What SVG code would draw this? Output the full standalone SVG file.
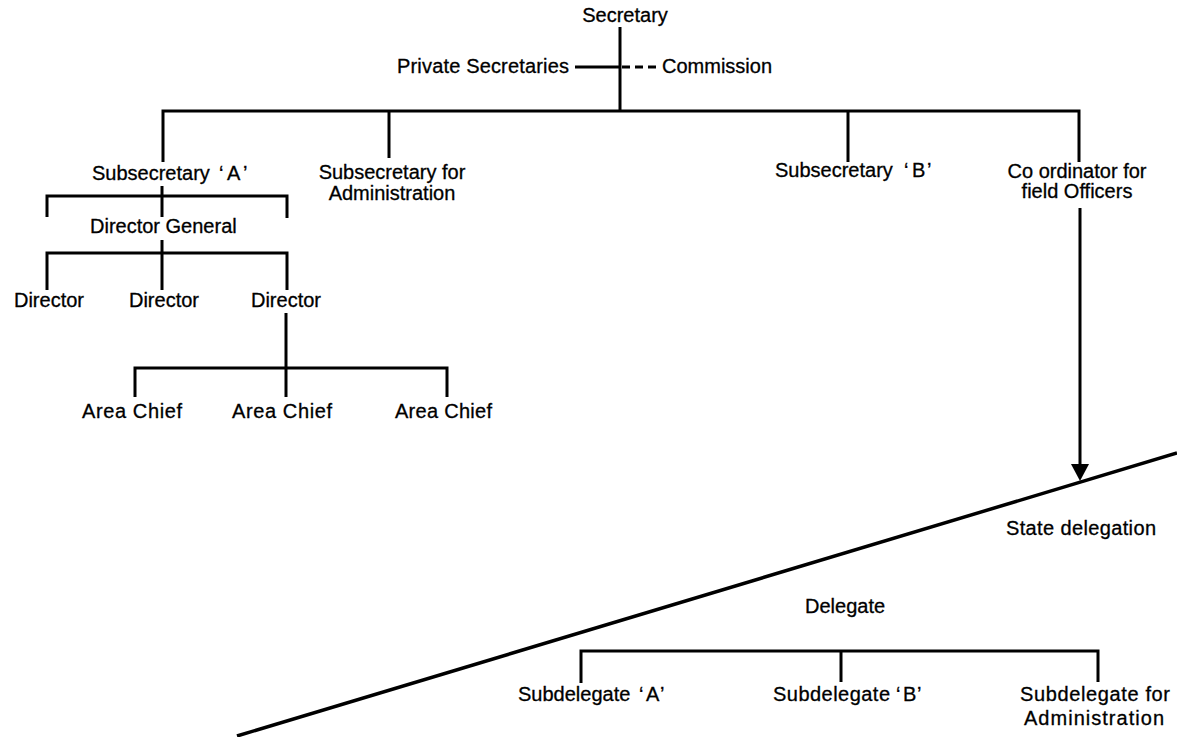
<svg xmlns="http://www.w3.org/2000/svg" width="1177" height="737" viewBox="0 0 1177 737">
  <style>
    .lbl { font-family: "Liberation Sans", Arial, sans-serif; font-size: 20px; fill: #000; stroke: #000; stroke-width: 0.3; }
    .mid { text-anchor: middle; }
    .end { text-anchor: end; }
    .ln { fill: none; stroke: #000; stroke-width: 3; stroke-linecap: butt; stroke-linejoin: miter; }
    .dash { stroke-dasharray: 8 5; }
  </style>
  <rect width="1177" height="737" fill="#fff"/>

  <!-- connectors -->
  <g id="connectors">
    <!-- Secretary down to the main bar -->
    <line class="ln" x1="620" y1="27" x2="620" y2="112"/>
    <!-- Private Secretaries (solid) and Commission (dashed) -->
    <line class="ln" x1="575" y1="67" x2="620" y2="67"/>
    <line class="ln dash" x1="622" y1="67" x2="658" y2="67"/>
    <!-- main bar to the four subsecretary-level posts -->
    <path class="ln" d="M163,162 V111 H1079 V162"/>
    <line class="ln" x1="389" y1="111" x2="389" y2="158"/>
    <line class="ln" x1="848" y1="111" x2="848" y2="162"/>
    <!-- Subsecretary 'A' bracket -->
    <line class="ln" x1="162" y1="186" x2="162" y2="217"/>
    <path class="ln" d="M47,217 V196 H287 V218"/>
    <!-- Director General to Directors -->
    <line class="ln" x1="162" y1="240" x2="162" y2="290"/>
    <path class="ln" d="M47,290 V253 H287 V290"/>
    <!-- Director to Area Chiefs -->
    <line class="ln" x1="286" y1="313" x2="286" y2="397"/>
    <path class="ln" d="M135,397 V368 H447 V397"/>
    <!-- Co-ordinator arrow down to the state level -->
    <line class="ln" x1="1080" y1="208" x2="1080" y2="468"/>
    <polygon points="1071,464 1089,464 1080,481" fill="#000"/>
    <!-- federal / state dividing line -->
    <line class="ln" x1="237" y1="736" x2="1177" y2="453" style="stroke-width:3.5"/>
    <!-- Delegate's subdelegates -->
    <path class="ln" d="M581,683 V651 H1098 V682"/>
    <line class="ln" x1="841" y1="651" x2="841" y2="682"/>
  </g>

  <g id="secretary"><text class="lbl mid" x="625" y="22">Secretary</text></g>
  <g id="private-secretaries"><text class="lbl" x="397" y="73" textLength="172" lengthAdjust="spacing">Private Secretaries</text></g>
  <g id="commission"><text class="lbl" x="662" y="73">Commission</text></g>

  <g id="subsecretary-a"><text class="lbl" x="92" y="180">Subsecretary <tspan x="219 227 243">‘A’</tspan></text></g>
  <g id="subsecretary-admin">
    <text class="lbl mid" x="392" y="179">Subsecretary for</text>
    <text class="lbl mid" x="392" y="200">Administration</text>
  </g>
  <g id="subsecretary-b"><text class="lbl" x="775" y="177">Subsecretary <tspan x="904 912 927">‘B’</tspan></text></g>
  <g id="coordinator">
    <text class="lbl mid" x="1077" y="178">Co ordinator for</text>
    <text class="lbl mid" x="1077" y="198">field Officers</text>
  </g>

  <g id="director-general"><text class="lbl" x="90" y="233">Director General</text></g>

  <g id="director-1"><text class="lbl mid" x="49" y="307">Director</text></g>
  <g id="director-2"><text class="lbl mid" x="164" y="307">Director</text></g>
  <g id="director-3"><text class="lbl mid" x="286" y="307">Director</text></g>

  <g id="area-chief-1"><text class="lbl" x="82" y="418" textLength="100" lengthAdjust="spacing">Area Chief</text></g>
  <g id="area-chief-2"><text class="lbl" x="232" y="418" textLength="100" lengthAdjust="spacing">Area Chief</text></g>
  <g id="area-chief-3"><text class="lbl" x="395" y="418" textLength="97" lengthAdjust="spacing">Area Chief</text></g>

  <g id="state-delegation"><text class="lbl" x="1006" y="535" textLength="150" lengthAdjust="spacing">State delegation</text></g>
  <g id="delegate"><text class="lbl" x="805" y="613">Delegate</text></g>

  <g id="subdelegate-a"><text class="lbl" x="518" y="701">Subdelegate <tspan x="639 646 660">‘A’</tspan></text></g>
  <g id="subdelegate-b"><text class="lbl" x="773" y="701" textLength="117" lengthAdjust="spacing">Subdelegate</text><text class="lbl" y="701"><tspan x="896 903 917">‘B’</tspan></text></g>
  <g id="subdelegate-admin">
    <text class="lbl" x="1020" y="701" textLength="150" lengthAdjust="spacing">Subdelegate for</text>
    <text class="lbl" x="1024" y="725" textLength="140" lengthAdjust="spacing">Administration</text>
  </g>
</svg>
